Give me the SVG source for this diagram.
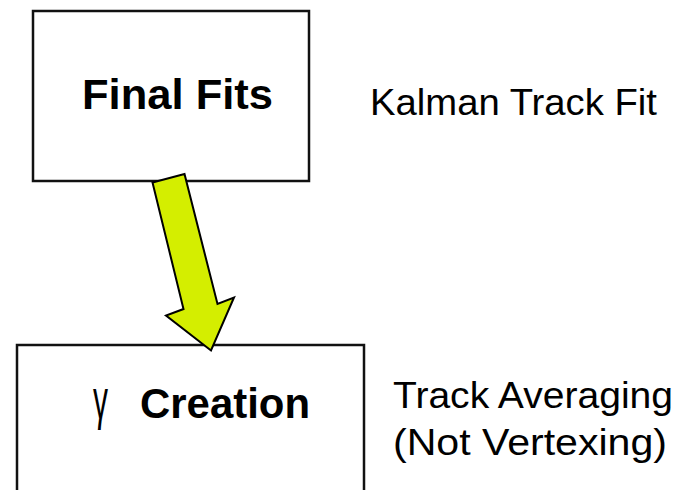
<svg xmlns="http://www.w3.org/2000/svg" width="683" height="490" viewBox="0 0 683 490">
<style>
.box{fill:#fff;stroke:#111;stroke-width:2.5}
.t{font-family:"Liberation Sans",Arial,sans-serif;fill:#000}
.b{font-weight:bold;font-size:43px}
.r{font-size:36px}
.arrow{fill:#d4ee00;stroke:#000;stroke-width:2;stroke-linejoin:miter}
</style>
<rect width="683" height="490" fill="#fff"/>
<g id="node-final-fits">
<rect class="box" x="33" y="11" width="276" height="170"/>
<text class="t b" x="82" y="109" textLength="191" lengthAdjust="spacingAndGlyphs">Final Fits</text>
</g>
<g id="node-gamma-creation">
<rect class="box" x="17" y="345" width="347" height="160"/>
<text class="t" x="93" y="418" font-size="56" textLength="15" lengthAdjust="spacingAndGlyphs">γ</text>
<text class="t b" x="140" y="418" textLength="170" lengthAdjust="spacingAndGlyphs">Creation</text>
</g>
<g id="labels">
<text class="t r" x="370" y="115" textLength="287" lengthAdjust="spacingAndGlyphs">Kalman Track Fit</text>
<text class="t r" x="393" y="408" textLength="280" lengthAdjust="spacingAndGlyphs">Track Averaging</text>
<text class="t r" x="393" y="455" textLength="274" lengthAdjust="spacingAndGlyphs">(Not Vertexing)</text>
</g>
<g id="connectors">
<polygon class="arrow" points="152.5,182.5 184.5,174 217.5,304 234,297.5 211,350.5 166,315.5 183.5,309"/>
</g>
</svg>
